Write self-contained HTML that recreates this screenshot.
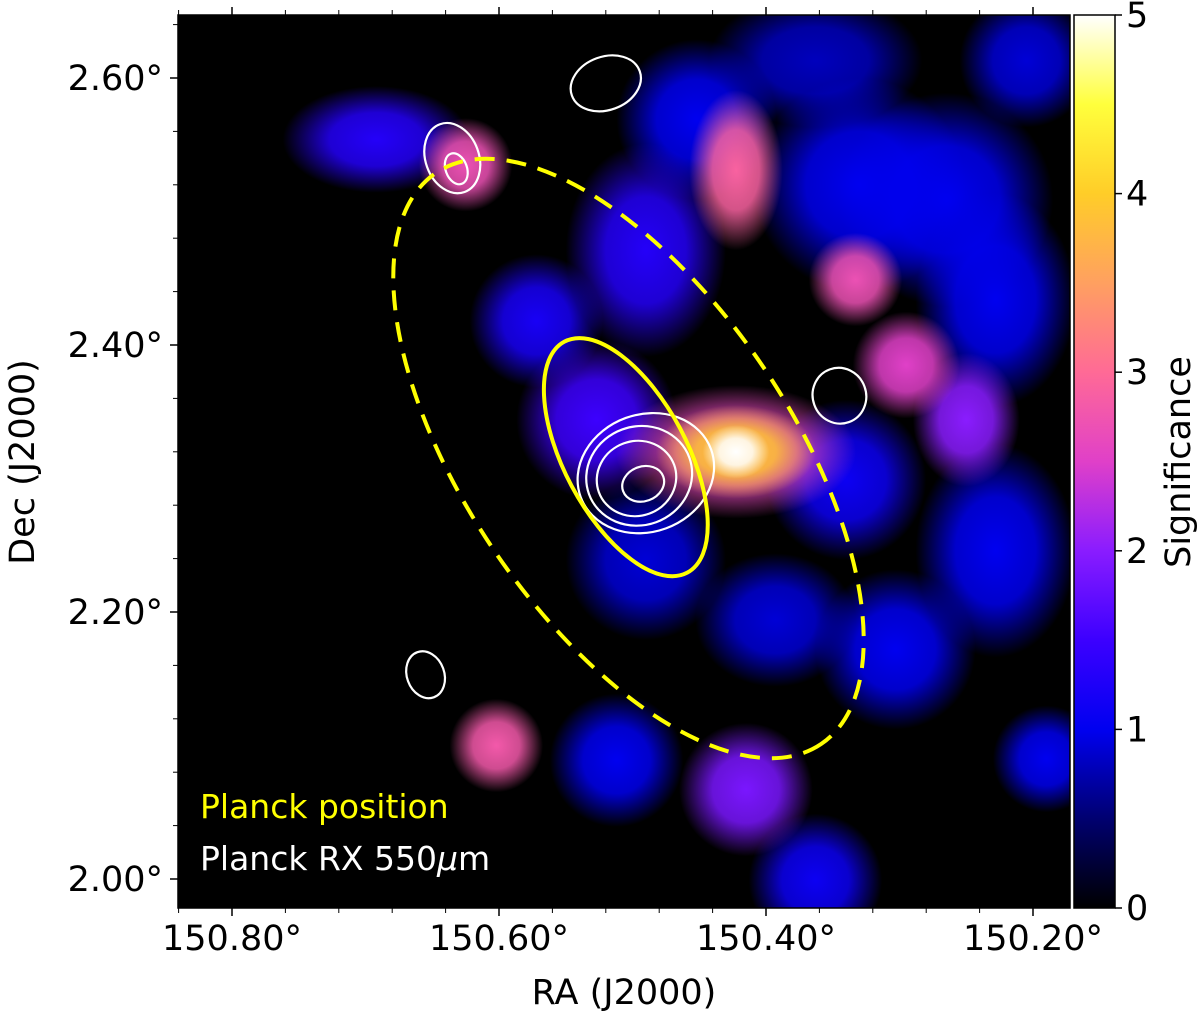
<!DOCTYPE html>
<html><head><meta charset="utf-8"><style>
body{margin:0;background:#fff;font-family:"DejaVu Sans","Liberation Sans",sans-serif}
svg{display:block}
</style></head><body>
<svg id="chart" width="1200" height="1017"></svg>
<script>
const blobRA  = [150.363,150.205,150.452,150.265,150.228,150.490,150.393,150.303,150.512,150.340,150.228,150.190,150.363,150.330,150.490,150.572,150.527,150.692,150.415,150.250,150.295,150.625,150.333,150.602,150.4225,150.4225,150.4225,150.4225];
const blobDec = [2.613,2.613,2.569,2.509,2.246,2.239,2.194,2.172,2.089,2.299,2.434,2.090,1.999,2.520,2.471,2.418,2.344,2.554,2.067,2.344,2.385,2.535,2.449,2.100,2.531,2.320,2.320,2.320];
const blobSig = [0.8,0.9,1.0,1.0,1.0,0.9,0.9,1.0,1.0,1.1,1.0,1.0,1.1,1.0,1.3,1.2,1.5,1.3,1.9,2.0,2.5,2.7,2.7,2.8,2.9,2.6,3.9,5.0];
const blobRx  = [0.08,0.05,0.06,0.08,0.06,0.06,0.06,0.06,0.05,0.06,0.06,0.04,0.05,0.08,0.06,0.05,0.06,0.07,0.05,0.04,0.04,0.035,0.035,0.035,0.035,0.09,0.06,0.025];
const blobRy  = [0.05,0.05,0.06,0.08,0.08,0.06,0.05,0.06,0.05,0.06,0.08,0.04,0.05,0.08,0.08,0.05,0.06,0.04,0.05,0.05,0.04,0.035,0.035,0.035,0.06,0.05,0.035,0.02];
const raTicks = [150.80,150.60,150.40,150.20];
const raLabels = ["150.80°","150.60°","150.40°","150.20°"];
const decTicks = [2.60,2.40,2.20,2.00];
const decLabels = ["2.60°","2.40°","2.20°","2.00°"];
const cbTicks = [0,1,2,3,4,5];
const contourRA  = [150.52,150.635,150.632,150.345,150.655,150.49,150.495,150.497,150.492];
const contourDec = [2.596,2.540,2.532,2.362,2.153,2.304,2.302,2.300,2.296];
const contourRx  = [0.027,0.02,0.008,0.02,0.014,0.052,0.040,0.030,0.016];
const contourRy  = [0.020,0.027,0.012,0.021,0.018,0.044,0.037,0.028,0.013];
const ellRA=[150.505,150.503], ellDec=[2.316,2.315], ellA=[0.098,0.258], ellB=[0.046,0.122], ellAng=[62,56];

const L=178,T=15,R=1070,B=908;
const xOf=ra=>232+(150.80-ra)/0.2*267;
const yOf=d=>78+(2.60-d)/0.2*267;
const sc=267/0.2;
const stops=[[0,[0,0,0]],[0.1,[0,0,112]],[0.2,[0,0,240]],[0.3,[60,0,255]],[0.4,[138,28,255]],[0.5,[224,64,200]],[0.6,[255,106,150]],[0.7,[255,160,96]],[0.8,[255,205,40]],[0.9,[255,255,60]],[1,[255,255,255]]];
function cmap(v){v=Math.max(0,Math.min(1,v));for(let i=1;i<stops.length;i++){if(v<=stops[i][0]){const[a,ca]=stops[i-1],[b,cb]=stops[i];const t=(v-a)/(b-a);return`rgb(${ca.map((c,k)=>Math.round(c+(cb[k]-c)*t)).join(',')})`;}}return'#fff';}
const svg=document.getElementById('chart');const NS='http://www.w3.org/2000/svg';
function mk(tag,attrs,parent){const e=document.createElementNS(NS,tag);for(const k in attrs)e.setAttribute(k,attrs[k]);(parent||svg).appendChild(e);return e;}
const defs=mk('defs',{});
const cp=mk('clipPath',{id:'pc'},defs);mk('rect',{x:L,y:T,width:R-L,height:B-T},cp);
const bg=mk('rect',{x:L,y:T,width:R-L,height:B-T,fill:'#000'});


const gm=mk('g',{'clip-path':'url(#pc)'});


blobRA.forEach((ra,i)=>{
  const g=mk('radialGradient',{id:'g'+i},defs);const c=cmap(blobSig[i]/5);
  mk('stop',{offset:'0','stop-color':c,'stop-opacity':'1'},g);
  mk('stop',{offset:'0.5','stop-color':c,'stop-opacity':'0.85'},g);
  mk('stop',{offset:'1','stop-color':c,'stop-opacity':'0'},g);
  const e=mk('ellipse',{cx:xOf(ra),cy:yOf(blobDec[i]),rx:blobRx[i]*sc,ry:blobRy[i]*sc,fill:`url(#g${i})`},gm);
  
  
});
contourRA.forEach((ra,i)=>{
  const e=mk('ellipse',{cx:xOf(ra),cy:yOf(contourDec[i]),rx:contourRx[i]*sc,ry:contourRy[i]*sc,fill:'none',stroke:'#fff','stroke-width':2.2,transform:`rotate(-20 ${xOf(ra)} ${yOf(contourDec[i])})`},gm);
  
  
});
ellRA.forEach((ra,i)=>{
  const cx=xOf(ra),cy=yOf(ellDec[i]);
  const e=mk('ellipse',{cx,cy,rx:ellA[i]*sc,ry:ellB[i]*sc,fill:'none',stroke:'#ffff00','stroke-width':4,transform:`rotate(${ellAng[i]} ${cx} ${cy})`},gm);
  if(i==1)e.setAttribute('stroke-dasharray','20 12');
  
  
});
function txt(x,y,s,attrs,name){const t=mk('text',Object.assign({x,y,'font-size':35,fill:'#000'},attrs));t.textContent=s;return t;}
txt(200,818,'Planck position',{fill:'#ffff00','font-size':33},'legend-planck-position');
const lt=txt(200,870,'Planck RX 550',{fill:'#fff','font-size':33},'legend-planck-rx');
const ts=mk('tspan',{'font-style':'italic'},lt);ts.textContent='μ';const ts2=mk('tspan',{},lt);ts2.textContent='m';
const fr=mk('rect',{x:L,y:T,width:R-L,height:B-T,fill:'none',stroke:'#000','stroke-width':1.5});

raTicks.forEach((ra,i)=>{const x=xOf(ra);mk('line',{x1:x,x2:x,y1:B,y2:B+8,stroke:'#000','stroke-width':1.5});mk('line',{x1:x,x2:x,y1:T,y2:T-8,stroke:'#000','stroke-width':1.5});txt(x,950,raLabels[i],{'text-anchor':'middle'},'x-tick-label');});
for(let v=150.84;v>150.15;v-=0.04){const x=xOf(v);if(x<L-1||x>R)continue;mk('line',{x1:x,x2:x,y1:B,y2:B+5,stroke:'#000'});mk('line',{x1:x,x2:x,y1:T,y2:T-5,stroke:'#000'});}
decTicks.forEach((d,i)=>{const y=yOf(d);mk('line',{x1:L,x2:L-8,y1:y,y2:y,stroke:'#000','stroke-width':1.5});txt(163,y+12,decLabels[i],{'text-anchor':'end'},'y-tick-label');});
for(let v=1.96;v<2.66;v+=0.04){const y=yOf(v);if(y<T||y>B)continue;mk('line',{x1:L,x2:L-5,y1:y,y2:y,stroke:'#000'});}
txt(624,1004,'RA (J2000)',{'text-anchor':'middle'},'x-axis-title');
txt(34,462,'Dec (J2000)',{'text-anchor':'middle',transform:'rotate(-90 34 462)'},'y-axis-title');
const lg=mk('linearGradient',{id:'cb',x1:0,y1:1,x2:0,y2:0},defs);
for(let i=0;i<=20;i++)mk('stop',{offset:i/20,'stop-color':cmap(i/20)},lg);
const cb=mk('rect',{x:1074,y:T,width:41,height:B-T,fill:'url(#cb)',stroke:'#000','stroke-width':1.5});

cbTicks.forEach(v=>{const y=B-(B-T)*v/5;mk('line',{x1:1115,x2:1122,y1:y,y2:y,stroke:'#000','stroke-width':1.5});txt(1126,y+12,String(v),{},'colorbar-tick-label');});
txt(1190,462,'Significance',{'text-anchor':'middle',transform:'rotate(-90 1190 462)'},'colorbar-title');
</script>
</body></html>
